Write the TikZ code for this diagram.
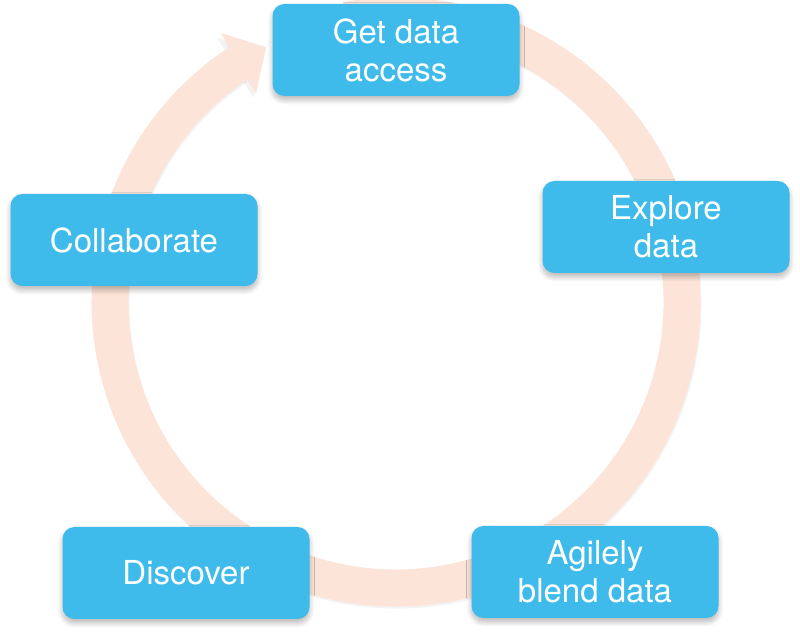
\documentclass[tikz,border=0pt]{standalone}
\usepackage{fontspec}
\setmainfont{TeX Gyre Heros}
\usetikzlibrary{shadows.blur, arrows.meta, bending}
\definecolor{stepblue}{RGB}{62,187,235}
\definecolor{ringpeach}{RGB}{252,228,216}

\begin{document}
\begin{tikzpicture}[x=1pt, y=1pt,
  stepbox/.style={fill=stepblue, rounded corners=12pt, minimum width=247pt, minimum height=92pt, inner sep=0pt, align=center, text=white, font=\fontsize{33}{38}\selectfont, blur shadow={shadow xshift=0pt, shadow yshift=-4pt, shadow blur radius=5pt, shadow blur steps=8, shadow opacity=28}},
  ring/.style={line width=37pt, ringpeach, -{Triangle[width=68pt, length=32pt]}}]
  % 边界
  \useasboundingbox (0,0) rectangle (800,636);

  % 圆环中心
  \coordinate (C) at (396,334);

  % 圆环阴影与圆环
  \draw[ring, black!60, opacity=0.08] ([shift={(1,-2)}]C) ++(100:286) arc[start angle=100, end angle=-242, radius=286];
  \draw[ring] (C) ++(100:286) arc[start angle=100, end angle=-243, radius=286];

  % 五个步骤
  \node[stepbox] (access) at (396,586) {Get data\\access};
  \node[stepbox] (explore) at (666,409) {Explore\\data};
  \node[stepbox] (blend) at (595,64) {Agilely\\blend data};
  \node[stepbox] (discover) at (186,63) {Discover};
  \node[stepbox] (collab) at (134,396) {Collaborate};
\end{tikzpicture}
\end{document}
